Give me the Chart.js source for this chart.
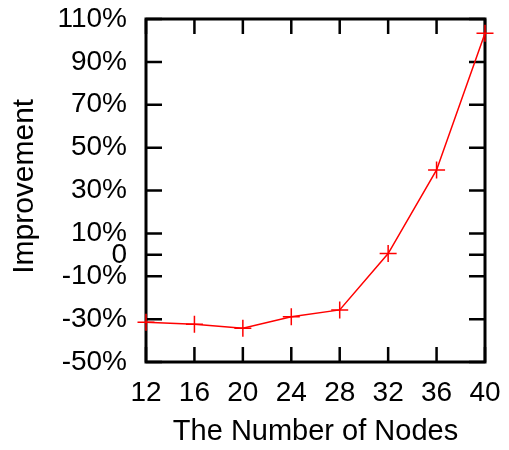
<!DOCTYPE html>
<html>
<head>
<meta charset="utf-8">
<script src="https://cdn.jsdelivr.net/npm/chart.js@4"></script>
<style>
html,body{margin:0;padding:0;background:#fff;}
canvas{display:block;}
</style>
</head>
<body>
<canvas id="c" width="509" height="450"></canvas>
<script>
const nodes = [12, 16, 20, 24, 28, 32, 36, 40];
const improvement = [-31.5, -32.4, -34.3, -28.9, -25.7, 0.6, 39.6, 103.3];
const yTickValues = [-50, -30, -10, 0, 10, 30, 50, 70, 90, 110];
const xTickValues = [12, 16, 20, 24, 28, 32, 36, 40];

const FONT = 'Liberation Sans, Arial, Helvetica, sans-serif';

const frame = {
  id: 'frame',
  beforeDatasetsDraw(chart) {
    const {ctx, chartArea: a, scales: {x, y}} = chart;
    ctx.save();
    ctx.strokeStyle = '#000';
    ctx.lineWidth = 2.5;
    ctx.beginPath();
    x.ticks.forEach(t => {
      const px = x.getPixelForValue(t.value);
      ctx.moveTo(px, a.bottom); ctx.lineTo(px, a.bottom - 15);
      ctx.moveTo(px, a.top); ctx.lineTo(px, a.top + 15);
    });
    y.ticks.forEach(t => {
      const py = y.getPixelForValue(t.value);
      ctx.moveTo(a.left, py); ctx.lineTo(a.left + 16, py);
      ctx.moveTo(a.right, py); ctx.lineTo(a.right - 16, py);
    });
    ctx.stroke();
    ctx.lineWidth = 3;
    ctx.strokeRect(a.left, a.top, a.right - a.left, a.bottom - a.top);
    ctx.restore();
  }
};

function zeroPad(s) {
  s.paddingTop = 0; s.paddingBottom = 0; s.paddingLeft = 0; s.paddingRight = 0;
}

new Chart(document.getElementById('c'), {
  type: 'line',
  data: {
    datasets: [{
      data: nodes.map((n, i) => ({x: n, y: improvement[i]})),
      borderColor: '#ff0000',
      backgroundColor: '#ff0000',
      borderWidth: 1.5,
      pointStyle: 'cross',
      pointRadius: 8.5,
      pointBorderWidth: 1.5,
      pointBorderColor: '#ff0000',
      tension: 0,
      fill: false,
      clip: false
    }]
  },
  options: {
    responsive: false,
    animation: false,
    events: [],
    layout: {padding: {top: 19, right: 24, left: 0, bottom: 0}},
    plugins: {legend: {display: false}, tooltip: {enabled: false}},
    scales: {
      x: {
        type: 'linear',
        min: 12, max: 40,
        afterBuildTicks: s => { s.ticks = xTickValues.map(v => ({value: v})); },
        afterFit: s => { s.height = 88; zeroPad(s); },
        grid: {display: false, drawTicks: false},
        border: {display: false},
        ticks: {
          autoSkip: false, maxRotation: 0, padding: 14,
          color: '#000', font: {family: FONT, size: 28}
        },
        title: {
          display: true, text: 'The Number of Nodes', color: '#000',
          font: {family: FONT, size: 29}, padding: {top: 0, bottom: 1}
        }
      },
      y: {
        type: 'linear',
        min: -50, max: 110,
        afterBuildTicks: s => { s.ticks = yTickValues.map(v => ({value: v})); },
        afterFit: s => { s.width = 146; zeroPad(s); },
        grid: {display: false, drawTicks: false},
        border: {display: false},
        ticks: {
          autoSkip: false, padding: 19,
          color: '#000', font: {family: FONT, size: 28},
          callback: v => v === 0 ? '0' : v + '%'
        },
        title: {
          display: true, text: ' Improvement', color: '#000',
          font: {family: FONT, size: 30}, padding: {top: 7, bottom: 0}
        }
      }
    }
  },
  plugins: [frame]
});
</script>
</body>
</html>
